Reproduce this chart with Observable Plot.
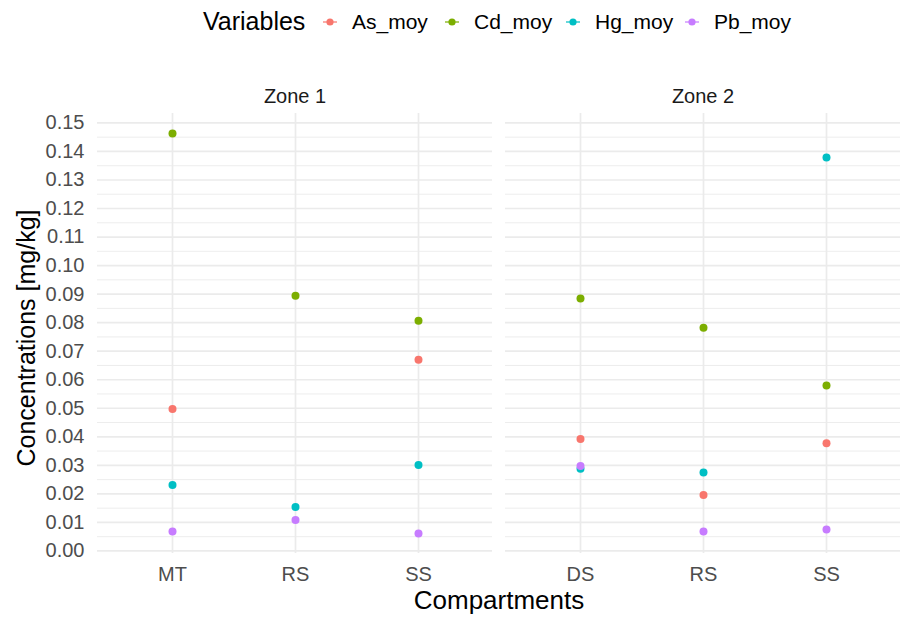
<!DOCTYPE html>
<html>
<head>
<meta charset="utf-8">
<script src="https://cdn.jsdelivr.net/npm/d3@7"></script>
<script src="https://cdn.jsdelivr.net/npm/@observablehq/plot@0.6"></script>
<style>
  html, body { margin: 0; padding: 0; background: #fff; }
  #root { position: relative; width: 901px; height: 618px; overflow: hidden; font-family: "Liberation Sans", Arial, sans-serif; }
  #root > * { position: absolute; top: 0; }
</style>
</head>
<body>
<div id="root"></div>
<script>
// ---- data ----
const zones = ["Zone 1", "Zone 1", "Zone 1", "Zone 2", "Zone 2", "Zone 2"];
const compartments = ["MT", "RS", "SS", "DS", "RS", "SS"];
const variables = ["As_moy", "Cd_moy", "Hg_moy", "Pb_moy"];
const variableColors = ["#F8766D", "#7CAE00", "#00BFC4", "#C77CFF"];
const asMoy = [0.0497, null, 0.0670, 0.0392, 0.0196, 0.0377];
const cdMoy = [0.1463, 0.0894, 0.0807, 0.0885, 0.0782, 0.0580];
const hgMoy = [0.0231, 0.0154, 0.0301, 0.0288, 0.0275, 0.1379];
const pbMoy = [0.0068, 0.0108, 0.0061, 0.0298, 0.0068, 0.0075];
const yTicks = [0, 0.01, 0.02, 0.03, 0.04, 0.05, 0.06, 0.07, 0.08, 0.09, 0.10, 0.11, 0.12, 0.13, 0.14, 0.15];
const yMinorTicks = [0.005, 0.015, 0.025, 0.035, 0.045, 0.055, 0.065, 0.075, 0.085, 0.095, 0.105, 0.115, 0.125, 0.135, 0.145];
const xTitle = "Compartments";
const yTitle = "Concentrations [mg/kg]";
const legendTitle = "Variables";

// ---- table ----
const series = [asMoy, cdMoy, hgMoy, pbMoy];
const rows = [];
compartments.forEach((c, i) => {
  variables.forEach((v, k) => {
    const val = series[k][i];
    if (val != null) rows.push({zone: zones[i], compartment: c, variable: v, value: val});
  });
});

const yDomain = [-0.0009, 0.1533];
const grid = "#ebebeb";
const font = "'Liberation Sans', Arial, sans-serif";

function panel(zone, opts) {
  const data = rows.filter(d => d.zone === zone);
  const cats = compartments.filter((c, i) => zones[i] === zone);
  const marks = [
    Plot.ruleY(yMinorTicks, {stroke: grid, strokeWidth: 0.9}),
    Plot.ruleY(yTicks, {stroke: grid, strokeWidth: 1.7}),
    Plot.ruleX(cats, {stroke: grid, strokeWidth: 1.7}),
    Plot.dot(data, {x: "compartment", y: "value", fill: "variable", r: 4}),
    Plot.axisX({tickSize: 0, tickPadding: 13, label: null, fontSize: 20, fill: "#4d4d4d"}),
    Plot.text([zone], {frameAnchor: "top", dy: -25, fontSize: 20, fill: "#1a1a1a"})
  ];
  if (opts.yAxis) {
    marks.push(Plot.axisY(yTicks, {tickSize: 0, tickPadding: 13, tickFormat: d3.format(".2f"), label: null, fontSize: 20, fill: "#4d4d4d"}));
  }
  const svg = Plot.plot({
    width: opts.width,
    height: 618,
    marginLeft: opts.marginLeft,
    marginRight: opts.marginRight,
    marginTop: 113,
    marginBottom: 65,
    style: {fontFamily: font, background: "transparent", overflow: "visible", color: "#4d4d4d"},
    x: {type: "point", domain: cats, padding: 0.6, axis: null},
    y: {domain: yDomain, nice: false, axis: null},
    color: {domain: variables, range: variableColors},
    marks
  });
  svg.style.left = opts.left + "px";
  return svg;
}

const root = document.getElementById("root");
root.appendChild(panel("Zone 1", {width: 495, marginLeft: 97, marginRight: 3, left: 0, yAxis: true}));
root.appendChild(panel("Zone 2", {width: 406, marginLeft: 10, marginRight: 1, left: 495, yAxis: false}));

// ---- overlay: titles + legend ----
const ns = "http://www.w3.org/2000/svg";
const ov = document.createElementNS(ns, "svg");
ov.setAttribute("width", 901);
ov.setAttribute("height", 618);
ov.style.left = "0px";
ov.style.fontFamily = font;
function txt(s, x, y, size, anchor, fill, transform) {
  const t = document.createElementNS(ns, "text");
  t.setAttribute("x", x); t.setAttribute("y", y);
  t.setAttribute("font-size", size);
  t.setAttribute("text-anchor", anchor);
  t.setAttribute("fill", fill);
  if (transform) t.setAttribute("transform", transform);
  t.textContent = s;
  ov.appendChild(t);
  return t;
}
txt(xTitle, 499, 609, 26, "middle", "#000");
txt(yTitle, 0, 0, 25, "middle", "#000", "translate(35,338) rotate(-90)");
txt(legendTitle, 203, 30, 25, "start", "#000");
const legendX = [330, 452, 573, 692];
variables.forEach((v, k) => {
  const cx = legendX[k];
  const l = document.createElementNS(ns, "line");
  l.setAttribute("x1", cx - 7); l.setAttribute("x2", cx + 7);
  l.setAttribute("y1", 22); l.setAttribute("y2", 22);
  l.setAttribute("stroke", variableColors[k]); l.setAttribute("stroke-width", 1.2);
  ov.appendChild(l);
  const c = document.createElementNS(ns, "circle");
  c.setAttribute("cx", cx); c.setAttribute("cy", 22); c.setAttribute("r", 3.6);
  c.setAttribute("fill", variableColors[k]);
  ov.appendChild(c);
  txt(v, cx + 22, 29, 21, "start", "#000");
});
root.appendChild(ov);
</script>
</body>
</html>
